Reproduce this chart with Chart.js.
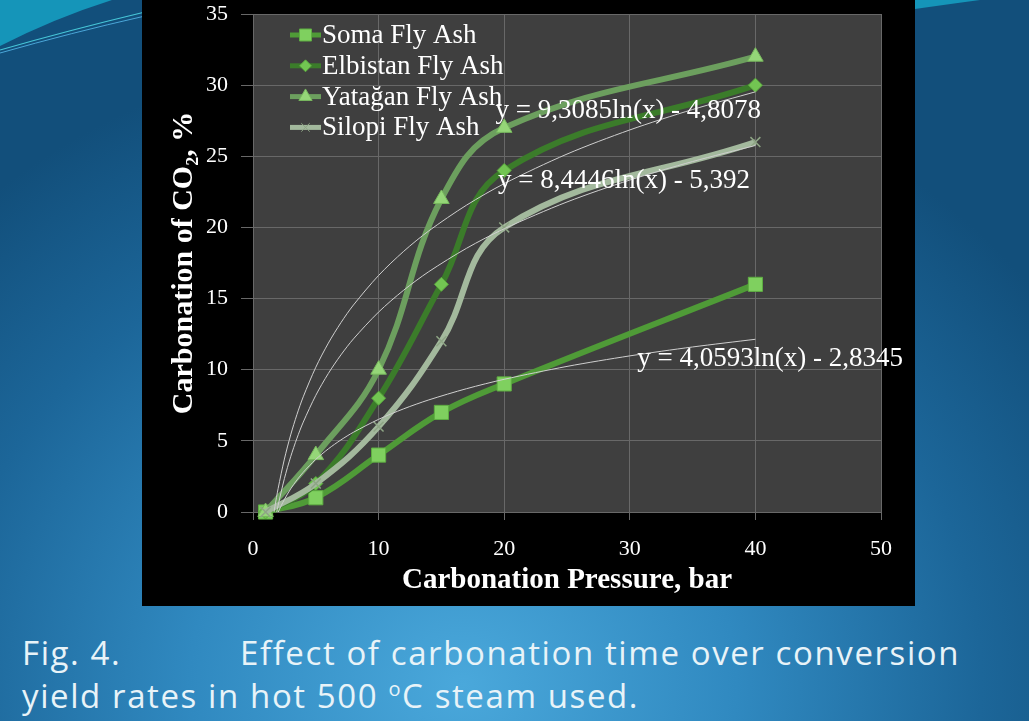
<!DOCTYPE html>
<html>
<head>
<meta charset="utf-8">
<script src="https://cdn.jsdelivr.net/npm/chart.js@4.4.1/dist/chart.umd.min.js"></script>
<style>
  html, body { margin: 0; padding: 0; }
  body {
    width: 1029px; height: 721px; overflow: hidden; position: relative;
    background: radial-gradient(ellipse 70% 90% at 45% 95%, #4aa8db 0%, #3089c0 38%, #1c6699 72%, #124f7b 100%);
    font-family: "Open Sans", sans-serif;
  }
  #deco { position: absolute; left: 0; top: 0; }
  #chartBox {
    position: absolute; left: 142px; top: 0; width: 773px; height: 606px; background: #000;
  }
  .caption { position: absolute; color: #e8f3f8; font-size: 33px; letter-spacing: 1.6px; white-space: nowrap; }
</style>
</head>
<body>
<svg id="deco" width="1029" height="80">
  <path d="M0,0 L112,0 Q55,18 0,46 Z" fill="#1595b9"/>
  <path d="M0,50 Q70,30 145,12" stroke="#47c7d8" stroke-width="1.2" fill="none"/>
  <path d="M0,53 Q70,33 145,16" stroke="#4aa6d8" stroke-width="1" fill="none"/>
  <path d="M915,0 L980,0 Q950,4 915,9 Z" fill="#1595b9"/>
</svg>
<div id="chartBox"><canvas id="co2Chart"></canvas></div>
<div class="caption" style="left:22px; top:630px;">Fig. 4.</div>
<div class="caption" style="left:240px; top:630px;">Effect of carbonation time over conversion</div>
<div class="caption" style="left:22px; top:673px;">yield rates in hot 500 <sup style="font-size:20px;">o</sup>C steam used.</div>
<script>
// --- DATA ---
const pressure = [1, 5, 10, 15, 20, 40];
const somaValues = [0, 1, 4, 7, 9, 16];
const elbistanValues = [0, 2, 8, 16, 24, 30];
const yataganValues = [0, 4, 10, 22, 27, 32];
const silopiValues = [0, 2, 6, 12, 20, 26];

const seriesNames = ['Soma Fly Ash', 'Elbistan Fly Ash', 'Yatağan Fly Ash', 'Silopi Fly Ash'];

// logarithmic trendlines shown on the chart: y = a ln(x) + b
const trendSlopes = [9.3085, 8.4446, 4.0593];
const trendIntercepts = [-4.8078, -5.392, -2.8345];
const trendLabels = ['y = 9,3085ln(x) - 4,8078', 'y = 8,4446ln(x) - 5,392', 'y = 4,0593ln(x) - 2,8345'];
const trendX = [1, 1.25, 1.5, 1.75, 2, 2.5, 3, 3.5, 4, 5, 6, 7, 8, 10, 12, 14, 17, 20, 25, 30, 35, 40];

const xTicks = [0, 10, 20, 30, 40, 50];
const yTicks = [0, 5, 10, 15, 20, 25, 30, 35];

// where the equation labels sit (data units, left edge / vertical middle)
const trendLabelAt = [[19.3, 28.2], [19.5, 23.3], [30.6, 10.75]];

const serif = '"Liberation Serif", "DejaVu Serif", serif';

const toPoints = (xs, ys) => xs.map((x, i) => ({ x: x, y: ys[i] }));

const seriesStyles = [
    { color: '#4f9b37', point: 'rect', radius: 10, fill: '#7fd05f', border: '#5eae42' },
    { color: '#3b7c2a', point: 'rectRot', radius: 7, fill: '#72c552', border: '#5aa83e' },
    { color: '#6c9f5e', point: 'triangle', radius: 9, fill: '#95d678', border: '#78b95e' },
    { color: '#a3b99d', point: 'crossRot', radius: 7, fill: '#8ea585', border: '#8ea585' }
];
const seriesValues = [somaValues, elbistanValues, yataganValues, silopiValues];

const datasets = [];
trendSlopes.forEach((a, i) => {
    datasets.push({
        label: 'trend' + i,
        data: trendX.map(x => ({ x: x, y: a * Math.log(x) + trendIntercepts[i] })),
        borderColor: '#cfcfcf',
        borderWidth: 1,
        pointRadius: 0,
        tension: 0.3,
        order: 0
    });
});
seriesValues.forEach((vals, i) => {
    const s = seriesStyles[i];
    datasets.push({
        label: seriesNames[i],
        data: toPoints(pressure, vals),
        borderColor: s.color,
        borderWidth: 6,
        tension: 0.4,
        pointStyle: s.point,
        pointRadius: s.radius,
        pointHoverRadius: s.radius,
        pointBackgroundColor: s.fill,
        pointBorderColor: s.border,
        pointBorderWidth: s.point === 'crossRot' ? 1.5 : 1,
        clip: false,
        order: 4 - i
    });
});

// dark plot area
const plotBackground = {
    id: 'plotBackground',
    beforeDraw(chart) {
        const { ctx, chartArea: a } = chart;
        ctx.save();
        ctx.fillStyle = '#3f3f3f';
        ctx.fillRect(a.left, a.top, a.right - a.left, a.bottom - a.top);
        ctx.restore();
    }
};

function drawMarker(ctx, style, r, x, y, fill, border, lw) {
    ctx.save();
    ctx.fillStyle = fill;
    ctx.strokeStyle = border;
    ctx.lineWidth = lw;
    ctx.beginPath();
    if (style === 'rect') {
        const h = r * Math.SQRT1_2;
        ctx.rect(x - h, y - h, 2 * h, 2 * h);
        ctx.fill(); ctx.stroke();
    } else if (style === 'rectRot') {
        ctx.moveTo(x, y - r); ctx.lineTo(x + r, y); ctx.lineTo(x, y + r); ctx.lineTo(x - r, y);
        ctx.closePath(); ctx.fill(); ctx.stroke();
    } else if (style === 'triangle') {
        ctx.moveTo(x, y - r);
        ctx.lineTo(x + r * Math.sin(2 * Math.PI / 3), y + r / 2);
        ctx.lineTo(x - r * Math.sin(2 * Math.PI / 3), y + r / 2);
        ctx.closePath(); ctx.fill(); ctx.stroke();
    } else {
        const d = r * Math.SQRT1_2;
        ctx.moveTo(x - d, y - d); ctx.lineTo(x + d, y + d);
        ctx.moveTo(x + d, y - d); ctx.lineTo(x - d, y + d);
        ctx.stroke();
    }
    ctx.restore();
}

// legend inside the plot + trendline equations
const overlay = {
    id: 'overlay',
    afterDatasetsDraw(chart) {
        const { ctx, chartArea: a, scales } = chart;
        ctx.save();
        ctx.font = '27px ' + serif;
        ctx.textBaseline = 'middle';
        seriesNames.forEach((name, i) => {
            const s = seriesStyles[i];
            const y = a.top + 21 + i * 30.8;
            const x0 = a.left + 37;
            ctx.strokeStyle = s.color;
            ctx.lineWidth = 5;
            ctx.beginPath();
            ctx.moveTo(x0, y); ctx.lineTo(x0 + 31, y);
            ctx.stroke();
            drawMarker(ctx, s.point, s.radius * 0.85, x0 + 15.5, y, s.fill, s.border, 1);
            ctx.fillStyle = '#ffffff';
            ctx.fillText(name, x0 + 32, y + 1);
        });
        ctx.fillStyle = '#ffffff';
        trendLabels.forEach((t, i) => {
            const px = scales.x.getPixelForValue(trendLabelAt[i][0]);
            const py = scales.y.getPixelForValue(trendLabelAt[i][1]);
            ctx.fillText(t, px, py);
        });
        ctx.restore();
    }
};

new Chart(document.getElementById('co2Chart'), {
    type: 'line',
    data: { datasets: datasets },
    options: {
        responsive: true,
        maintainAspectRatio: false,
        animation: false,
        layout: { padding: { top: 14, right: 34, left: 0, bottom: 0 } },
        plugins: { legend: { display: false }, tooltip: { enabled: false } },
        scales: {
            x: {
                type: 'linear',
                min: 0, max: 50,
                afterBuildTicks: s => { s.ticks = xTicks.map(v => ({ value: v })); },
                afterFit: s => { s.height = 94; },
                grid: { color: '#686868', lineWidth: 1, tickLength: 8, tickColor: '#686868' },
                border: { display: false },
                ticks: { color: '#ffffff', font: { family: serif, size: 22 }, padding: 16 },
                title: {
                    display: true, text: 'Carbonation Pressure, bar', color: '#ffffff',
                    font: { family: serif, size: 29, weight: 'bold' }, padding: { top: 0, bottom: 8 }
                }
            },
            y: {
                type: 'linear',
                min: 0, max: 35,
                afterBuildTicks: s => { s.ticks = yTicks.map(v => ({ value: v })); },
                afterFit: s => { s.width = 111; s.paddingTop = 0; s.paddingBottom = 0; },
                grid: { color: '#686868', lineWidth: 1, tickLength: 12, tickColor: '#686868' },
                border: { display: false },
                ticks: { color: '#ffffff', font: { family: serif, size: 22 }, padding: 13 },
                title: {
                    display: true, text: 'Carbonation of CO₂, %', color: '#ffffff',
                    font: { family: serif, size: 30, weight: 'bold' }, padding: { top: 24, bottom: 0 }
                }
            }
        }
    },
    plugins: [plotBackground, overlay]
});
</script>
</body>
</html>
